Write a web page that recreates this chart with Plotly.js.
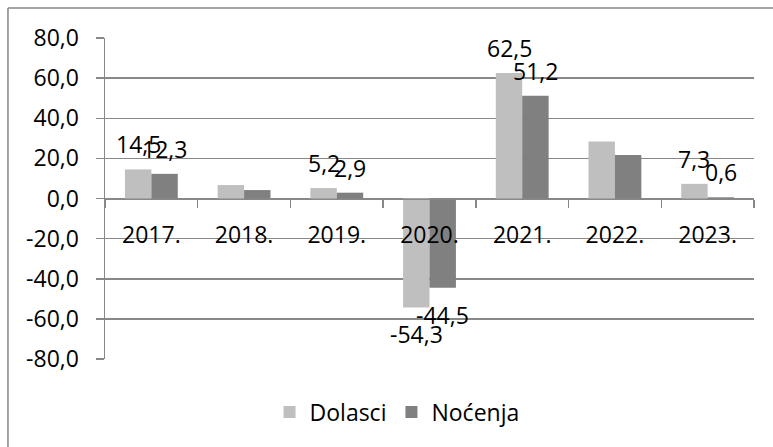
<!DOCTYPE html>
<html>
<head>
<meta charset="utf-8">
<script src="https://cdn.plot.ly/plotly-3.0.1.min.js"></script>
<style>
  html, body { margin: 0; padding: 0; background: #ffffff; }
  #chart { width: 773px; height: 447px; }
</style>
</head>
<body>
<div id="chart"></div>
<script>
// ---- data ----
var categories = ['2017.', '2018.', '2019.', '2020.', '2021.', '2022.', '2023.'];
var dolasci   = [14.5, 6.7, 5.2, -54.3, 62.5, 28.4, 7.3];
var nocenja   = [12.3, 4.2, 2.9, -44.5, 51.2, 21.7, 0.6];
var showLabel = [true, false, true, true, true, false, true];
var yTickVals = [-80, -60, -40, -20, 0, 20, 40, 60, 80];
var yTickText = ['-80,0', '-60,0', '-40,0', '-20,0', '0,0', '20,0', '40,0', '60,0', '80,0'];

function fmt(v) { return v.toFixed(1).replace('.', ','); }

var FONT = 'Open Sans, Noto Sans, sans-serif';
var FS = 23;
var GRID = '#888888';

var traces = [
  { type: 'bar', name: 'Dolasci', x: categories, y: dolasci,
    marker: { color: '#bfbfbf' }, hoverinfo: 'none' },
  { type: 'bar', name: 'Noćenja', x: categories, y: nocenja,
    marker: { color: '#808080' }, hoverinfo: 'none' }
];

// value labels placed at each bar's end through the axes (x = category index)
var annotations = [];
[[dolasci, -13.2], [nocenja, 13.2]].forEach(function (pair) {
  var vals = pair[0], dx = pair[1];
  vals.forEach(function (v, i) {
    if (!showLabel[i]) return;
    annotations.push({
      x: i, y: v, xref: 'x', yref: 'y',
      text: fmt(v), showarrow: false,
      xshift: dx, yshift: v >= 0 ? 7 : -9,
      yanchor: v >= 0 ? 'bottom' : 'top', xanchor: 'center',
      font: { family: FONT, size: FS, color: '#000000' }
    });
  });
});

var layout = {
  width: 773, height: 447,
  margin: { l: 105, r: 19, t: 38, b: 88, pad: 0 },
  paper_bgcolor: '#ffffff', plot_bgcolor: '#ffffff',
  font: { family: FONT, size: FS, color: '#000000' },
  barmode: 'group', bargap: 0.43, bargroupgap: 0,
  showlegend: true,
  legend: {
    orientation: 'h', x: 0.45, xanchor: 'center', y: -0.165, yanchor: 'middle',
    font: { family: FONT, size: FS, color: '#000000' },
    traceorder: 'normal'
  },
  xaxis: {
    type: 'category', categoryorder: 'array', categoryarray: categories,
    range: [-0.5, categories.length - 0.5],
    anchor: 'free', position: 0.5,
    showline: true, linecolor: GRID, linewidth: 1.5,
    ticks: 'outside', tickson: 'boundaries', ticklen: 8, tickcolor: GRID, tickwidth: 1.5,
    showgrid: false, zeroline: false,
    ticklabelstandoff: 15,
    tickfont: { family: FONT, size: FS, color: '#000000' }
  },
  yaxis: {
    range: [-80, 80], tickmode: 'array', tickvals: yTickVals, ticktext: yTickText,
    showline: true, linecolor: GRID, linewidth: 1.5,
    ticks: 'outside', ticklen: 8, tickcolor: GRID, tickwidth: 1.5,
    showgrid: true, gridcolor: GRID, gridwidth: 1.5,
    zeroline: false,
    ticklabelstandoff: 12,
    tickfont: { family: FONT, size: FS, color: '#000000' }
  },
  annotations: annotations,
  shapes: [
    { type: 'line', xref: 'paper', yref: 'paper',
      x0: -0.1495, x1: -0.1495, y0: 1.0935, y1: -0.3,
      line: { color: '#868686', width: 1.5 } },
    { type: 'line', xref: 'paper', yref: 'paper',
      x0: -0.1495, x1: 1.05, y0: 1.0935, y1: 1.0935,
      line: { color: '#868686', width: 1.5 } }
  ]
};

Plotly.newPlot('chart', traces, layout, { displayModeBar: false, staticPlot: true });
</script>
</body>
</html>
